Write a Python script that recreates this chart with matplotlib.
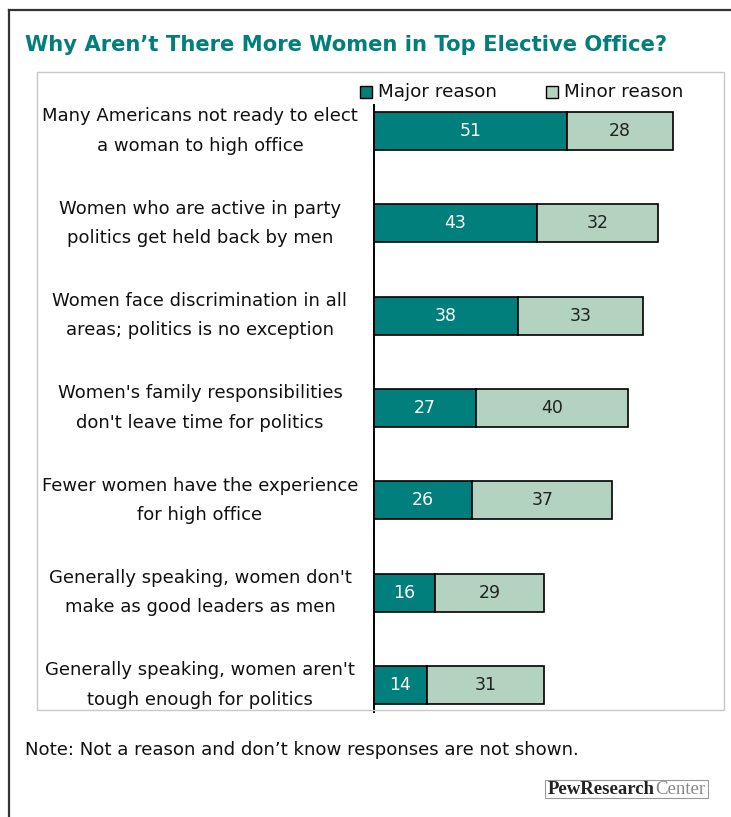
import matplotlib
matplotlib.use("Agg")
import matplotlib.pyplot as plt
from matplotlib.patches import Rectangle
from matplotlib.lines import Line2D

W, H = 731, 817
DPI = 100

reasons = [
    "Many Americans not ready to elect\na woman to high office",
    "Women who are active in party\npolitics get held back by men",
    "Women face discrimination in all\nareas; politics is no exception",
    "Women's family responsibilities\ndon't leave time for politics",
    "Fewer women have the experience\nfor high office",
    "Generally speaking, women don't\nmake as good leaders as men",
    "Generally speaking, women aren't\ntough enough for politics",
]
major = [51, 43, 38, 27, 26, 16, 14]
minor = [28, 32, 33, 40, 37, 29, 31]
series_names = ["Major reason", "Minor reason"]

TEAL = "#007f7c"
SAGE = "#b3d2bf"
FONT = "DejaVu Sans"

fig = plt.figure(figsize=(W / DPI, H / DPI), dpi=DPI)
fig.patch.set_facecolor("white")


def fx(px):
    return px / W


def fy(py):
    return 1 - py / H


# outer frame (top and left edges)
fig.add_artist(Line2D([fx(9), fx(731)], [fy(10), fy(10)], color="#333333", lw=1.6))
fig.add_artist(Line2D([fx(9), fx(9)], [fy(10), fy(817)], color="#333333", lw=1.6))

# title
fig.text(fx(25), fy(45), "Why Aren\u2019t There More Women in Top Elective Office?",
         color=TEAL, fontsize=15.2, fontweight="bold", family=FONT,
         ha="left", va="center")

# inner panel
fig.add_artist(Rectangle((fx(37), fy(710)), fx(724) - fx(37), fy(72) - fy(710),
                         transform=fig.transFigure, fill=False,
                         edgecolor="#c8c8c8", lw=1.0))

# bar axes
ax_left, ax_right, ax_top, ax_bot = 374, 724, 105, 712
ax = fig.add_axes([fx(ax_left), fy(ax_bot), fx(ax_right) - fx(ax_left),
                   fy(ax_top) - fy(ax_bot)])
ax.set_facecolor("none")
px_per_unit = 3.785
ax.set_xlim(0, (ax_right - ax_left) / px_per_unit)
spacing = 92.33
ax.set_ylim((ax_bot - 131) / spacing, -(131 - ax_top) / spacing)

ypos = list(range(len(reasons)))
ax.barh(ypos, major, height=0.41, color=TEAL, edgecolor="black", lw=1.2,
        label=series_names[0])
ax.barh(ypos, minor, left=major, height=0.41, color=SAGE, edgecolor="black",
        lw=1.2, label=series_names[1])

for y, a, b in zip(ypos, major, minor):
    ax.text(a / 2, y, str(a), ha="center", va="center", color="white",
            fontsize=12.5, family=FONT)
    ax.text(a + b / 2, y, str(b), ha="center", va="center", color="#222222",
            fontsize=12.5, family=FONT)

for s in ["top", "right", "bottom"]:
    ax.spines[s].set_visible(False)
ax.spines["left"].set_color("black")
ax.spines["left"].set_linewidth(1.4)
ax.set_xticks([])
ax.set_yticks([])

# category labels
for y, lab in zip(ypos, reasons):
    ax.text(-(ax_left - 200) / px_per_unit, y, lab, ha="center", va="center",
            fontsize=13, family=FONT, color="#111111", linespacing=1.8,
            clip_on=False)

# legend
for sx, name, col in [(360, series_names[0], TEAL), (546, series_names[1], SAGE)]:
    fig.add_artist(Rectangle((fx(sx), fy(98)), fx(12), fy(86) - fy(98),
                             transform=fig.transFigure, facecolor=col,
                             edgecolor="black", lw=1.0))
    fig.text(fx(sx + 18), fy(92), name, fontsize=13.2, family=FONT,
             ha="left", va="center", color="#111111")

# note
fig.text(fx(25), fy(750), "Note: Not a reason and don\u2019t know responses are not shown.",
         fontsize=13.1, family=FONT, ha="left", va="center", color="#111111")

# source logo
fig.add_artist(Rectangle((fx(545), fy(798)), fx(708) - fx(545), fy(780) - fy(798),
                         transform=fig.transFigure, fill=False,
                         edgecolor="#999999", lw=0.8))
t1 = fig.text(fx(548), fy(789.5), "PewResearch", fontsize=13.5, family="Liberation Serif",
              fontweight="bold", color="#222222", ha="left", va="center")
fig.canvas.draw()
bb = t1.get_window_extent()
fig.text(bb.x1 / W, fy(789.5), "Center", fontsize=13.5, family="Liberation Serif",
         color="#888888", ha="left", va="center")

fig.savefig("out.png", dpi=DPI)
